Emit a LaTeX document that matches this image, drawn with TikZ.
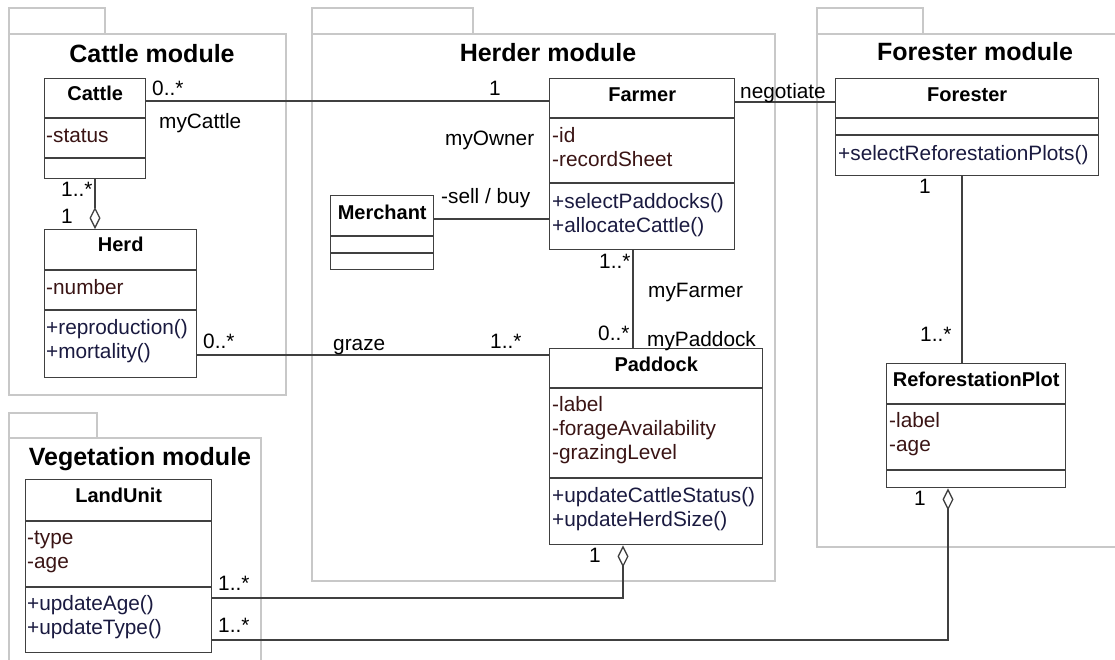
\documentclass[tikz,border=0pt]{standalone}
\usepackage{fontspec}
\setmainfont{Liberation Sans}
\usetikzlibrary{arrows.meta}
\definecolor{pkg}{HTML}{C8C8C8}
\definecolor{edge}{HTML}{404040}
\definecolor{attrc}{HTML}{3A1414}
\definecolor{opc}{HTML}{1A1A40}
\tikzset{
 pkgline/.style={draw=pkg, line width=1.5pt},
 classbox/.style={draw=edge, line width=1.4pt, fill=white, inner sep=0pt, anchor=north west},
 sepline/.style={draw=edge, line width=1.4pt},
 cname/.style={font=\fontsize{20}{24}\selectfont\bfseries, anchor=base, inner sep=0pt},
 attr/.style={font=\fontsize{20.8}{24}\selectfont, text=attrc, anchor=base west, inner sep=0pt},
 ops/.style={font=\fontsize{20.8}{24}\selectfont, text=opc, anchor=base west, inner sep=0pt},
 lbl/.style={font=\fontsize{20.8}{24}\selectfont, anchor=base west, inner sep=0pt},
 title/.style={font=\fontsize{25}{30}\selectfont\bfseries, anchor=base, inner sep=0pt},
 conn/.style={draw=edge, line width=1.3pt},
 agg/.style={conn, -{Diamond[open, fill=white, length=22pt, width=11pt]}},
}
\begin{document}
\begin{tikzpicture}[x=1pt, y=-1pt]
\path[use as bounding box] (0,0) rectangle (1115,659);
\clip (0,0) rectangle (1115,659);
% packages
\draw[pkgline] (9,34) rectangle (286,395);
\draw[pkgline] (9,34) -- (9,8) -- (105,8) -- (105,34);
\draw[pkgline] (312,34) rectangle (775,581);
\draw[pkgline] (312,34) -- (312,8) -- (473,8) -- (473,34);
\draw[pkgline] (817,34) rectangle (1140,547);
\draw[pkgline] (817,34) -- (817,8) -- (923,8) -- (923,34);
\draw[pkgline] (9,438) rectangle (261,680);
\draw[pkgline] (9,438) -- (9,413) -- (97,413) -- (97,438);
\node[title] (tcattle) at (152,62) {Cattle module};
\node[title] (therder) at (548,61) {Herder module};
\node[title] (tforester) at (975,60) {Forester module};
\node[title] (tveg) at (140,465) {Vegetation module};

% Cattle
\node[classbox, minimum width=101pt, minimum height=100pt] (cattle) at (44,78) {};
\draw[sepline] (cattle.west |- 0,118) -- (cattle.east |- 0,118);
\draw[sepline] (cattle.west |- 0,158) -- (cattle.east |- 0,158);
\node[cname] (cattlen) at (cattle.north |- 0,100) {Cattle};
\node[attr] (cattlea1) at (46,142) {-status};

% Herd
\node[classbox, minimum width=152pt, minimum height=148pt] (herd) at (44,229) {};
\draw[sepline] (herd.west |- 0,270) -- (herd.east |- 0,270);
\draw[sepline] (herd.west |- 0,310) -- (herd.east |- 0,310);
\node[cname] (herdn) at (herd.north |- 0,251) {Herd};
\node[attr] (herda1) at (46,294) {-number};
\node[ops] (herdo1) at (46,334) {+reproduction()};
\node[ops] (herdo2) at (46,358) {+mortality()};

% Farmer
\node[classbox, minimum width=185pt, minimum height=171pt] (farmer) at (549,78) {};
\draw[sepline] (farmer.west |- 0,118) -- (farmer.east |- 0,118);
\draw[sepline] (farmer.west |- 0,183) -- (farmer.east |- 0,183);
\node[cname] (farmern) at (farmer.north |- 0,101) {Farmer};
\node[attr] (farmera1) at (552,142) {-id};
\node[attr] (farmera2) at (552,166) {-recordSheet};
\node[ops] (farmero1) at (552,208) {+selectPaddocks()};
\node[ops] (farmero2) at (552,232) {+allocateCattle()};

% Merchant
\node[classbox, minimum width=103pt, minimum height=74pt] (merchant) at (330,195) {};
\draw[sepline] (merchant.west |- 0,236) -- (merchant.east |- 0,236);
\draw[sepline] (merchant.west |- 0,253) -- (merchant.east |- 0,253);
\node[cname] (merchantn) at (merchant.north |- 0,219) {Merchant};

% Forester
\node[classbox, minimum width=263pt, minimum height=97pt] (forester) at (835,78) {};
\draw[sepline] (forester.west |- 0,118) -- (forester.east |- 0,118);
\draw[sepline] (forester.west |- 0,135) -- (forester.east |- 0,135);
\node[cname] (forestern) at (forester.north |- 0,101) {Forester};
\node[ops] (forestero1) at (838,160) {+selectReforestationPlots()};

% Paddock
\node[classbox, minimum width=213pt, minimum height=196pt] (paddock) at (549,348) {};
\draw[sepline] (paddock.west |- 0,388) -- (paddock.east |- 0,388);
\draw[sepline] (paddock.west |- 0,478) -- (paddock.east |- 0,478);
\node[cname] (paddockn) at (paddock.north |- 0,371) {Paddock};
\node[attr] (paddocka1) at (552,411) {-label};
\node[attr] (paddocka2) at (552,435) {-forageAvailability};
\node[attr] (paddocka3) at (552,459) {-grazingLevel};
\node[ops] (paddocko1) at (552,502) {+updateCattleStatus()};
\node[ops] (paddocko2) at (552,526) {+updateHerdSize()};

% ReforestationPlot
\node[classbox, minimum width=179pt, minimum height=124pt] (rplot) at (886,363) {};
\draw[sepline] (rplot.west |- 0,404) -- (rplot.east |- 0,404);
\draw[sepline] (rplot.west |- 0,470) -- (rplot.east |- 0,470);
\node[cname] (rplotn) at (rplot.north |- 0,386) {ReforestationPlot};
\node[attr] (rplota1) at (889,427) {-label};
\node[attr] (rplota2) at (889,451) {-age};

% LandUnit
\node[classbox, minimum width=186pt, minimum height=173pt] (landunit) at (25,479) {};
\draw[sepline] (landunit.west |- 0,521) -- (landunit.east |- 0,521);
\draw[sepline] (landunit.west |- 0,587) -- (landunit.east |- 0,587);
\node[cname] (landunitn) at (landunit.north |- 0,502) {LandUnit};
\node[attr] (landunita1) at (27,544) {-type};
\node[attr] (landunita2) at (27,568) {-age};
\node[ops] (landunito1) at (27,610) {+updateAge()};
\node[ops] (landunito2) at (27,634) {+updateType()};

% connectors
\draw[conn] (cattle.east |- 0,101) -- (farmer.west |- 0,101);
\draw[conn] (farmer.east |- 0,102) -- (forester.west |- 0,102);
\draw[conn] (merchant.east |- 0,219) -- (farmer.west |- 0,219);
\draw[conn] (farmer.south -| 633,0) -- (paddock.north -| 633,0);
\draw[conn] (herd.east |- 0,355) -- (paddock.west |- 0,355);
\draw[conn] (forester.south -| 962,0) -- (rplot.north -| 962,0);
\draw[agg] (cattle.south -| 95,0) -- (herd.north -| 95,0);
\draw[agg] (landunit.east |- 0,598) -| (paddock.south -| 623,0);
\draw[agg] (landunit.east |- 0,640) -| (rplot.south -| 948,0);

% labels
\node[lbl] (l1) at (152,95) {0..*};
\node[lbl] (l2) at (159,128) {myCattle};
\node[lbl] (l3) at (489,95) {1};
\node[lbl] (l4) at (445,145) {myOwner};
\node[lbl] (l5) at (441,203) {-sell / buy};
\node[lbl] (l6) at (740,98) {negotiate};
\node[lbl] (l7) at (599,268) {1..*};
\node[lbl] (l8) at (648,297) {myFarmer};
\node[lbl] (l9) at (598,340) {0..*};
\node[lbl] (l10) at (647,346) {myPaddock};
\node[lbl] (l11) at (490,348) {1..*};
\node[lbl] (l12) at (333,350) {graze};
\node[lbl] (l13) at (203,348) {0..*};
\node[lbl] (l14) at (61,196) {1..*};
\node[lbl] (l15) at (61,223) {1};
\node[lbl] (l16) at (919,193) {1};
\node[lbl] (l17) at (920,341) {1..*};
\node[lbl] (l18) at (914,505) {1};
\node[lbl] (l19) at (589,562) {1};
\node[lbl] (l20) at (218,590) {1..*};
\node[lbl] (l21) at (218,632) {1..*};
\end{tikzpicture}
\end{document}
